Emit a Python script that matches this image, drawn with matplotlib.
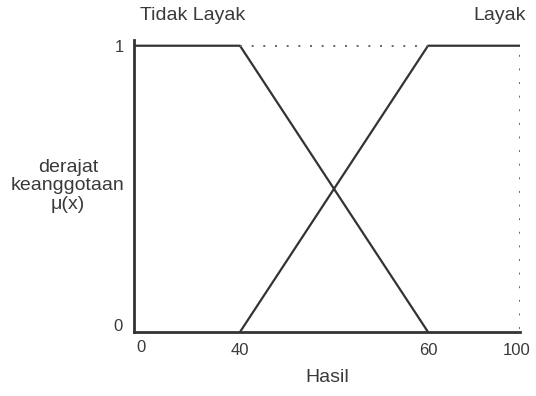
import numpy as np
import matplotlib

matplotlib.use("Agg")
import matplotlib.pyplot as plt
from matplotlib.transforms import offset_copy

plt.rcParams["font.family"] = ["Liberation Sans", "DejaVu Sans"]

# membership functions for "Hasil"
tidak_x = [0, 40, 60]
tidak_mu = [1, 1, 0]
layak_x = [40, 60, 100]
layak_mu = [0, 1, 1]
xticks = [0, 40, 60, 100]
yticks = [0, 1]

# uneven spacing of the hand-drawn axis
knots = [0, 40, 60, 100]
knot_pos = [0.0, 0.2746, 0.7617, 1.0]


def fwd(x):
    return np.interp(x, knots, knot_pos)


def inv(p):
    return np.interp(p, knot_pos, knots)


INK = "#333333"
TXT = "#3a3a3a"

fig = plt.figure(figsize=(5.36, 3.96), dpi=100)
ax = fig.add_axes([134 / 536, 64 / 396, 386 / 536, 292 / 396])
ax.set_xscale("function", functions=(fwd, inv))
ax.set_xlim(0, 100)
ax.set_ylim(0, 1.02)

ax.plot(tidak_x, tidak_mu, color=INK, lw=1.6, solid_capstyle="butt")
ax.plot(layak_x, layak_mu, color=INK, lw=1.6, solid_capstyle="butt")
# dotted guides
ax.plot([40, 60], [1, 1], color="#666666", lw=1.4, ls=(0, (1, 5)))
ax.plot([100, 100], [0.01, 0.98], color="#666666", lw=1.4, ls=(0, (1, 6)))

for s in ["top", "right"]:
    ax.spines[s].set_visible(False)
for s in ["left", "bottom"]:
    ax.spines[s].set_color(INK)
    ax.spines[s].set_linewidth(2)

ax.set_xticks(xticks)
ax.set_xticklabels([str(v) for v in xticks])
ax.set_yticks(yticks)
ax.set_yticklabels([str(v) for v in yticks])
ax.tick_params(length=0, labelsize=12, labelcolor=TXT)
ax.tick_params(axis="x", pad=8)
ax.tick_params(axis="y", pad=7)
lbls = ax.get_xticklabels()
lbls[0].set_transform(offset_copy(lbls[0].get_transform(), fig=fig, x=7, y=3, units="dots"))
lbls[-1].set_transform(offset_copy(lbls[-1].get_transform(), fig=fig, x=-3, y=0, units="dots"))
ylb = ax.get_yticklabels()
ylb[0].set_transform(offset_copy(ylb[0].get_transform(), fig=fig, x=-2, y=7, units="dots"))

ax.set_xlabel("Hasil", fontsize=14, color=TXT, labelpad=8)
fig.text(68 / 536, 1 - 186 / 396, "derajat\nkeanggotaan\nμ(x)", ha="center", va="center",
         fontsize=14, color=TXT, linespacing=1.15)

fig.text(193 / 536, 1 - 15 / 396, "Tidak Layak", ha="center", va="center", fontsize=14, color=TXT)
fig.text(500 / 536, 1 - 15 / 396, "Layak", ha="center", va="center", fontsize=14, color=TXT)

fig.savefig("out.png", dpi=100)
